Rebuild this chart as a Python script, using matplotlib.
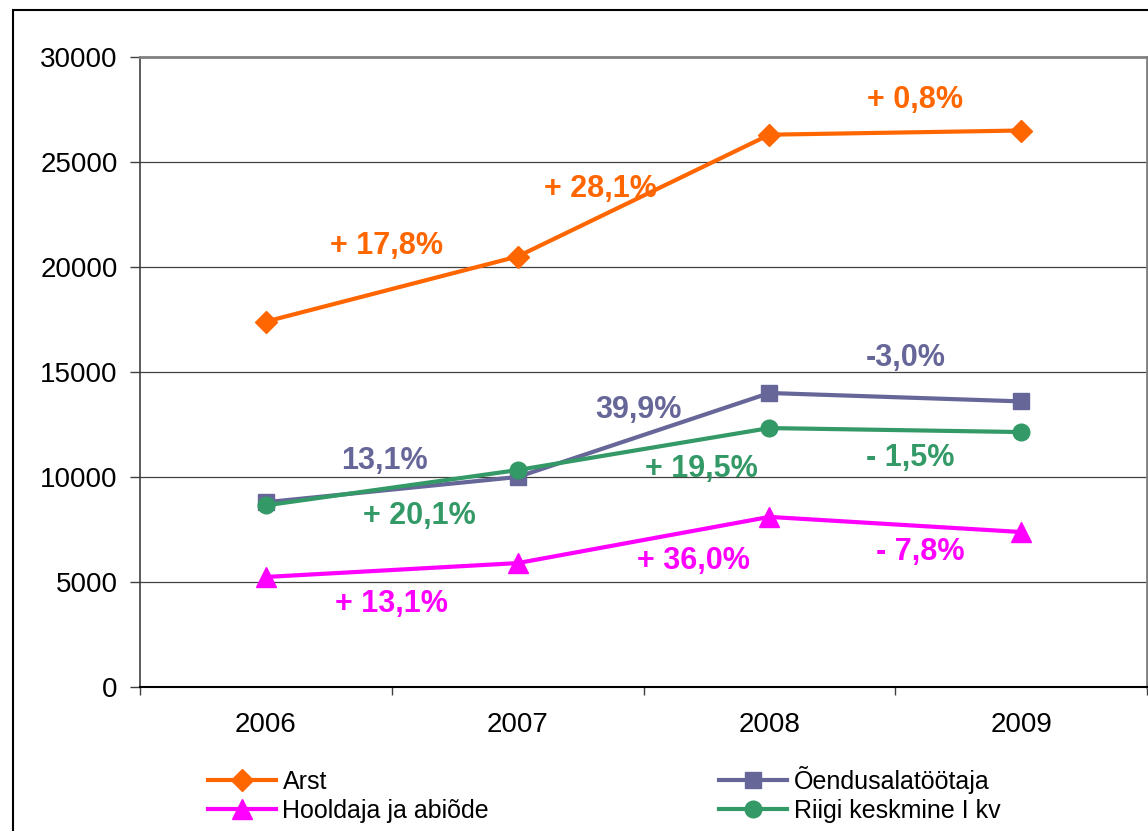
import matplotlib
matplotlib.use('Agg')
import matplotlib.pyplot as plt
from matplotlib.patches import Rectangle

plt.rcParams['font.family'] = ['Liberation Sans', 'DejaVu Sans']

years = ['2006', '2007', '2008', '2009']
arst = [17400, 20500, 26300, 26500]
oendus = [8800, 10000, 14000, 13600]
riigi = [8650, 10330, 12330, 12140]
hooldaja = [5240, 5900, 8100, 7380]

# muutuse protsendid
arst_pct = ['+ 17,8%', '+ 28,1%', '+ 0,8%']
oendus_pct = ['13,1%', '39,9%', '-3,0%']
riigi_pct = ['+ 20,1%', '+ 19,5%', '- 1,5%']
hooldaja_pct = ['+ 13,1%', '+ 36,0%', '- 7,8%']

c_arst = '#FF6600'
c_oendus = '#666699'
c_riigi = '#339966'
c_hool = '#FF00FF'

fig = plt.figure(figsize=(11.48, 8.31), dpi=100)
ax = fig.add_axes([140/1148, 144/831, 1007/1148, 630/831])

x = range(len(years))
l1, = ax.plot(x, arst, color=c_arst, lw=3, marker='D', ms=11, label='Arst', zorder=3)
l2, = ax.plot(x, oendus, color=c_oendus, lw=3, marker='s', ms=12, label='Õendusalatöötaja', zorder=3)
l4, = ax.plot(x, riigi, color=c_riigi, lw=3, marker='o', ms=12, label='Riigi keskmine I kv', zorder=4)
l3, = ax.plot(x, hooldaja, color=c_hool, lw=3, marker='^', ms=14, label='Hooldaja ja abiõde', zorder=3)

# siltide asukohad
fs = 22
pos_arst = [(0.48, 21000), (1.33, 23700), (2.58, 27950)]
pos_oendus = [(0.47, 10760), (1.48, 13190), (2.54, 15670)]
pos_riigi = [(0.61, 8140), (1.73, 10380), (2.56, 10900)]
pos_hool = [(0.5, 3950), (1.7, 6000), (2.6, 6430)]
for labels, pos, c in [(arst_pct, pos_arst, c_arst), (oendus_pct, pos_oendus, c_oendus),
                       (riigi_pct, pos_riigi, c_riigi), (hooldaja_pct, pos_hool, c_hool)]:
    for t, (px, py) in zip(labels, pos):
        ax.text(px, py, t, color=c, fontsize=fs, fontweight='bold', ha='center', va='center', zorder=5)

ax.set_xlim(-0.5, 3.5)
ax.set_ylim(0, 30000)
ax.set_yticks(range(0, 30001, 5000))
ax.tick_params(axis='y', labelsize=20, length=7, width=1, pad=9, color='#404040')
ax.set_xticks([-0.5, 0.5, 1.5, 2.5, 3.5])
ax.set_xticklabels([])
ax.set_xticks([0, 1, 2, 3], minor=True)
ax.set_xticklabels(years, minor=True)
ax.tick_params(axis='x', which='major', length=6, width=1, color='#404040')
ax.tick_params(axis='x', which='minor', length=0, labelsize=20, pad=18)
for v in range(5000, 30000, 5000):
    ax.axhline(v, color='#404040', lw=0.9, zorder=1)
ax.spines['top'].set_color('#808080')
ax.spines['top'].set_linewidth(2)
ax.spines['right'].set_color('#808080')
ax.spines['right'].set_linewidth(2)
ax.spines['left'].set_color('#404040')
ax.spines['left'].set_linewidth(1.2)
ax.spines['bottom'].set_color('#000000')
ax.spines['bottom'].set_linewidth(1.5)

fig.patches.append(Rectangle((13/1148, -0.1), 1.2, (821/831) + 0.1, transform=fig.transFigure,
                             fill=False, ec='black', lw=1.5))

fig.legend(handles=[l1, l3, l2, l4], ncol=2, loc='upper left', bbox_to_anchor=(208/1148, 1 - 766/831),
           frameon=False, fontsize=18, handlelength=2.7, handletextpad=0.28, labelspacing=0.2,
           columnspacing=9.2, borderpad=0, borderaxespad=0)

fig.savefig('out.png', dpi=100)
